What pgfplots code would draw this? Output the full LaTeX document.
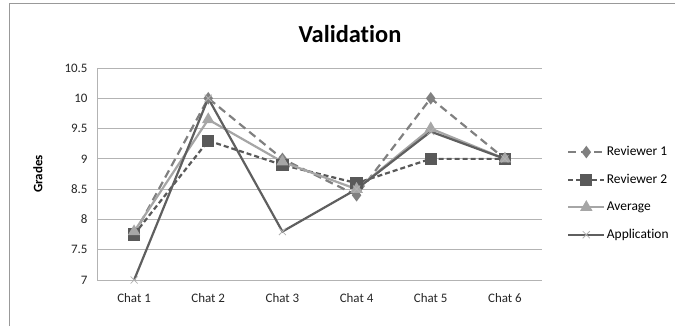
\documentclass[border=0pt]{standalone}
\usepackage{fontspec}
\setmainfont[Ligatures=NoCommon]{Carlito}
\usepackage{pgfplots}
\pgfplotsset{compat=1.18}
\definecolor{rone}{HTML}{808080}
\definecolor{rtwo}{HTML}{595959}
\definecolor{avg}{HTML}{A6A6A6}
\definecolor{app}{HTML}{5F5F5F}
\definecolor{grid}{HTML}{B3B3B3}
\begin{document}
\begin{tikzpicture}[x=1bp,y=1bp]
\path[use as bounding box] (0,0) rectangle (675,-326);
\draw[color=gray!80,line width=1bp] (9,-326) -- (9,-3) -- (675,-3);
\node[font=\fontsize{24.5}{28}\selectfont\bfseries] at (350,-34) {Validation};
\node[rotate=90, font=\fontsize{13}{15}\selectfont\bfseries] at (38,-174) {Grades};
\begin{axis}[
  at={(97bp,-280bp)}, anchor=south west,
  scale only axis, width=445bp, height=212bp,
  xmin=-0.5, xmax=5.5, ymin=7, ymax=10.5,
  xtick={0,1,2,3,4,5},
  xticklabels={Chat 1,Chat 2,Chat 3,Chat 4,Chat 5,Chat 6},
  ytick={7,7.5,...,10.5},
  yticklabel style={/pgf/number format/fixed},
  /pgf/number format/assume math mode=true,
  tick label style={font=\fontsize{13}{15}\selectfont, color=black!85},
  xticklabel style={yshift=-10bp},
  yticklabel style={xshift=-6bp},
  major tick length=0pt,
  ymajorgrids, grid style={color=grid, line width=0.9bp},
  axis x line*=bottom, axis y line*=left,
  axis line style={color=grid, line width=0.9bp, -},
  legend style={draw=none, fill=none, at={(470bp,135bp)}, anchor=north west,
    font=\fontsize{13.5}{16}\selectfont, row sep=14bp, inner sep=0pt,
    nodes={inner sep=1.5bp}},
  legend cell align=left,
  legend image code/.code={\draw[#1, mark repeat=2, mark phase=2] plot coordinates {(0bp,0bp) (18bp,0bp) (36bp,0bp)};},
  clip=false,
]
\addplot[color=rone, line width=2.2bp, dash pattern=on 8bp off 5bp, mark=diamond*, mark size=4.5bp, mark options={solid, fill=rone}]
  coordinates {(0,7.75) (1,10) (2,9) (3,8.4) (4,10) (5,9)};
\addlegendentry{Reviewer 1}
\addplot[color=rtwo, line width=2.2bp, dash pattern=on 5bp off 3bp, mark=square*, mark size=5bp, mark options={solid, fill=rtwo}]
  coordinates {(0,7.75) (1,9.3) (2,8.9) (3,8.6) (4,9) (5,9)};
\addlegendentry{Reviewer 2}
\addplot[color=avg, line width=2.2bp, mark=triangle*, mark size=5bp, mark options={solid, fill=avg}]
  coordinates {(0,7.8) (1,9.65) (2,8.95) (3,8.5) (4,9.5) (5,9)};
\addlegendentry{Average}
\addplot[color=app, line width=2.2bp, mark=x, mark size=5bp, mark options={solid, color=black!30, line width=0.8bp}]
  coordinates {(0,7) (1,10) (2,7.8) (3,8.5) (4,9.45) (5,9)};
\addlegendentry{Application}
\end{axis}
\end{tikzpicture}
\end{document}
